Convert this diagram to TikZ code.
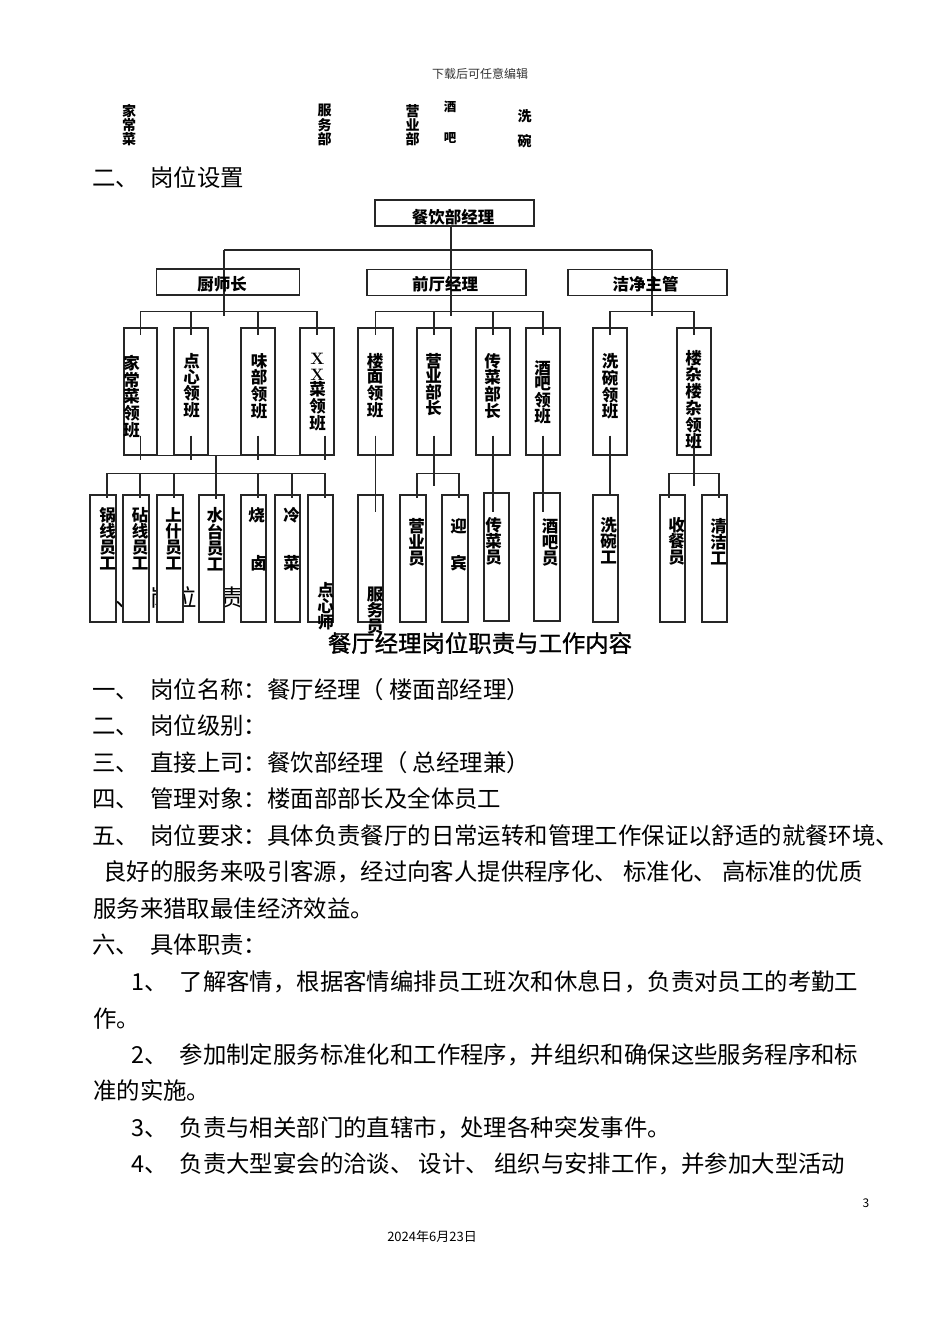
\documentclass[tikz,border=0pt]{standalone}
\usepackage{fontspec}
\newfontfamily\cjk{Noto Sans CJK SC}
\newfontfamily\cjkfb[FakeBold=1.2]{Noto Sans CJK SC}
\begin{document}
\begin{tikzpicture}[x=1pt,y=-1pt,
  box/.style={draw=black!85, fill=white, line width=1.1pt, inner sep=0pt},
  conn/.style={draw=black!85, line width=1.1pt},
  vl/.style={font=\cjk\bfseries\fontsize{16.5}{15.5}\selectfont, align=center, inner sep=0pt, anchor=north},
  vm/.style={font=\cjk\bfseries\fontsize{16.5}{16}\selectfont, align=center, inner sep=0pt, anchor=north},
  hl/.style={font=\cjk\bfseries\fontsize{16.5}{18}\selectfont, inner sep=0pt},
  tops/.style={font=\cjk\bfseries\fontsize{14}{12.4}\selectfont, align=center, inner sep=0pt, anchor=north},
  body/.style={font=\cjk\fontsize{23.4}{28}\selectfont, inner sep=0pt, anchor=west, execute at begin node=\vphantom{国}},
]
\fill[white] (0,0) rectangle (950,1344);
\useasboundingbox (0,0) rectangle (950,1344);

% header
\node[font=\cjk\fontsize{12}{14}\selectfont, text=black!80, inner sep=0pt] (hdr) at (480,74) {下载后可任意编辑};

% top stray characters
\node[tops] (t1) at (129,104) {家\\常\\菜};
\node[tops] (t2) at (324.5,104) {服\\务\\部};
\node[tops] (t3) at (412.5,104) {营\\业\\部};
\node[tops, font=\cjk\bfseries\fontsize{12.5}{12}\selectfont] (t4a) at (450,101) {酒};
\node[tops, font=\cjk\bfseries\fontsize{12.5}{12}\selectfont] (t4b) at (450,132) {吧};
\node[tops] (t5a) at (524.5,109) {洗};
\node[tops] (t5b) at (524.5,134) {碗};

\node[body] (s2a) at (92,178) {二、};
\node[body] (s2b) at (150,178) {岗位设置};

% hidden heading behind the chart
\node[body] (s3a) at (92,598) {三、};
\node[body] (s3b) at (150,598) {岗位职责};

% level 1-2 boxes
\node[box, minimum width=159, minimum height=26] (top) at (454.5,213) {};
\node[box, minimum width=143, minimum height=26] (k) at (228,282) {};
\node[box, minimum width=159, minimum height=26] (f) at (446.5,282.5) {};
\node[box, minimum width=159, minimum height=26] (c) at (647.5,282.5) {};

% level 3 boxes
\node[box, minimum width=33, minimum height=127] (c1) at (140.5,391.5) {};
\node[box, minimum width=34, minimum height=127] (c2) at (191,391.5) {};
\node[box, minimum width=34, minimum height=127] (c3) at (258,391.5) {};
\node[box, minimum width=34, minimum height=127] (c4) at (317,391.5) {};
\node[box, minimum width=35, minimum height=127] (f1) at (375.5,391.5) {};
\node[box, minimum width=34, minimum height=127] (f2) at (434,391.5) {};
\node[box, minimum width=34, minimum height=127] (f3) at (493,391.5) {};
\node[box, minimum width=34, minimum height=127] (f4) at (543,391.5) {};
\node[box, minimum width=34, minimum height=127] (w1) at (610,391.5) {};
\node[box, minimum width=34, minimum height=127] (w2) at (694,391.5) {};

% level 4 boxes
\node[box, minimum width=26, minimum height=127] (d1) at (103,558.5) {};
\node[box, minimum width=26, minimum height=127] (d2) at (136,558.5) {};
\node[box, minimum width=26, minimum height=127] (d3) at (170,558.5) {};
\node[box, minimum width=25, minimum height=127] (d4) at (211.5,558.5) {};
\node[box, minimum width=25, minimum height=127] (d5) at (253.5,558.5) {};
\node[box, minimum width=25, minimum height=127] (d6) at (287.5,558.5) {};
\node[box, minimum width=25, minimum height=127] (d7) at (320.5,558.5) {};
\node[box, minimum width=25, minimum height=127] (e1) at (370.5,558.5) {};
\node[box, minimum width=26, minimum height=127] (e2) at (413,558.5) {};
\node[box, minimum width=26, minimum height=127] (e3) at (455,558.5) {};
\node[box, minimum width=25, minimum height=128] (e4) at (496.5,557) {};
\node[box, minimum width=26, minimum height=128] (e5) at (547,557) {};
\node[box, minimum width=25, minimum height=127] (e6) at (605.5,558.5) {};
\node[box, minimum width=25, minimum height=127] (e7) at (672.5,558.5) {};
\node[box, minimum width=25, minimum height=127] (e8) at (714.5,558.5) {};

% connectors level 1-2
\coordinate (a1) at (451,250);
\coordinate (aL) at (224,250);
\coordinate (aR) at (652,250);
\coordinate (a2) at (451,316);
\coordinate (aL2) at (224,316);
\coordinate (aR2) at (652,316);
\draw[conn] (top.south -| a1) -- (a2);
\draw[conn] (aL) -- (aR);
\draw[conn] (aL) -- (aL2);
\draw[conn] (aR) -- (aR2);

% level 3 buses and top stubs
\draw[conn] ([yshift=16pt]c1.north) -- ([yshift=16pt]c4.north);
\draw[conn] ([yshift=16pt]f1.north) -- ([yshift=16pt]f4.north);
\draw[conn] ([yshift=16pt]w1.north) -- ([yshift=16pt]w2.north);
\foreach \n in {c1,c2,c3,c4,f1,f2,f3,f4,w1,w2}
  \draw[conn] (\n.north) ++(0,-16) -- ++(0,24);

% kitchen bottom
\draw[conn] (c1.south) -- ([xshift=8pt]c4.south);
\foreach \n in {c1,c2,c3}
  \draw[conn] (\n.south) ++(0,-20) -- ++(0,24);
\draw[conn] ([xshift=8pt]c4.south) ++(0,-20) -- ++(0,24);
\coordinate (kj) at (216,455);
\coordinate (kj2) at (216,499);
\draw[conn] (kj) -- (kj2);
\draw[conn] ([xshift=4pt,yshift=21pt]d1.north) -- ([xshift=4.5pt,yshift=21pt]d7.north);
\foreach \n in {d1,d2,d3}
  \draw[conn] ([xshift=4pt]\n.north) ++(0,-21) -- ++(0,25);
\foreach \n in {d5,d6,d7}
  \draw[conn] ([xshift=4.5pt]\n.north) ++(0,-21) -- ++(0,25);

% front of house bottom
\draw[conn] (f1.south) ++(0,-20) -- ++(0,76);
\draw[conn] (f2.south) ++(0,-20) -- ++(0,50);
\draw[conn] ([xshift=4pt,yshift=21pt]e2.north) -- ([xshift=4pt,yshift=21pt]e3.north);
\draw[conn] ([xshift=4pt]e2.north) ++(0,-21) -- ++(0,25);
\draw[conn] ([xshift=4pt]e3.north) ++(0,-21) -- ++(0,25);
\draw[conn] (f3.south) ++(0,-20) -- ++(0,76);
\draw[conn] (f4.south) ++(0,-20) -- ++(0,76);

% cleaning bottom
\draw[conn] (w1.south) ++(0,-20) -- ++(0,60);
\draw[conn] (w2.south) ++(0,-20) -- ++(0,50);
\draw[conn] ([xshift=-3.5pt,yshift=21pt]e7.north) -- ([xshift=4.5pt,yshift=21pt]e8.north);
\draw[conn] ([xshift=-3.5pt]e7.north) ++(0,-21) -- ++(0,25);
\draw[conn] ([xshift=4.5pt]e8.north) ++(0,-21) -- ++(0,25);

% level 1-2 labels
\node[hl] (ltop) at (453,217) {餐饮部经理};
\node[hl] (lk) at (222,284) {厨师长};
\node[hl] (lf) at (445,284) {前厅经理};
\node[hl] (lc) at (645.5,284) {洁净主管};

% level 3 labels
\node[vl] (lc1) at (131.5,355) {家\\常\\菜\\领\\班};
\node[vl] (lc2) at (191.5,353) {点\\心\\领\\班};
\node[vl] (lc3) at (259,353) {味\\部\\领\\班};
\node[vl] (lc4) at (317.5,353) {{\normalfont\bfseries X}\\{\normalfont\bfseries X}\\菜\\领\\班};
\node[vl] (lf1) at (375,353) {楼\\面\\领\\班};
\node[vl] (lf2) at (433.5,353) {营\\业\\部\\长};
\node[vl] (lf3) at (492.5,353) {传\\菜\\部\\长};
\node[vl] (lf4) at (542.5,360) {酒\\吧\\领\\班};
\node[vl] (lw1) at (610,353) {洗\\碗\\领\\班};
\node[vl] (lw2) at (693.5,350) {楼\\杂\\楼\\杂\\领\\班};

% level 4 labels
\node[vm] (ld1) at (107.5,507) {锅\\线\\员\\工};
\node[vm] (ld2) at (140,507) {砧\\线\\员\\工};
\node[vm] (ld3) at (173.5,507) {上\\什\\员\\工};
\node[vm] (ld4) at (215,507) {水\\台\\员\\工};
\node[vm] (ld5a) at (256.5,507) {烧};
\node[vm] (ld5b) at (258.5,555) {卤};
\node[vm] (ld6a) at (291.5,507) {冷};
\node[vm] (ld6b) at (291.5,555) {菜};
\node[vm] (ld7) at (325.5,582) {点\\心\\师};
\node[vm] (le1) at (375,587) {服\\务\\员};
\node[vm] (le2) at (416.5,518) {营\\业\\员};
\node[vm] (le3a) at (458.5,518) {迎};
\node[vm] (le3b) at (458.5,555) {宾};
\node[vm] (le4) at (493.5,517) {传\\菜\\员};
\node[vm] (le5) at (550,518) {酒\\吧\\员};
\node[vm] (le6) at (608.5,517) {洗\\碗\\工};
\node[vm] (le7) at (676.5,517) {收\\餐\\员};
\node[vm] (le8) at (718.5,518) {清\\洁\\工};

% body text
\node[body, anchor=center, font=\cjkfb\fontsize{23.4}{28}\selectfont] (title) at (480,643) {餐厅经理岗位职责与工作内容};
\node[body] (p1a) at (92,690) {一、};
\node[body] (p1b) at (150,690) {岗位名称：餐厅经理（ 楼面部经理）};
\node[body] (p2a) at (92,726) {二、};
\node[body] (p2b) at (150,726) {岗位级别：};
\node[body] (p3a) at (92,763) {三、};
\node[body] (p3b) at (150,763) {直接上司：餐饮部经理（ 总经理兼）};
\node[body] (p4a) at (92,799) {四、};
\node[body] (p4b) at (150,799) {管理对象：楼面部部长及全体员工};
\node[body] (p5a) at (92,836) {五、};
\node[body] (p5b) at (150,836) {岗位要求：具体负责餐厅的日常运转和管理工作保证以舒适的就餐环境、};
\node[body] (p5c) at (103,872) {良好的服务来吸引客源，经过向客人提供程序化、 标准化、 高标准的优质};
\node[body] (p5d) at (93,909) {服务来猎取最佳经济效益。};
\node[body] (p6a) at (92,945) {六、};
\node[body] (p6b) at (150,945) {具体职责：};
\node[body] (q1a) at (131,982) {1、};
\node[body] (q1b) at (179.5,982) {了解客情，根据客情编排员工班次和休息日，负责对员工的考勤工};
\node[body] (q1c) at (93,1019) {作。};
\node[body] (q2a) at (131,1055) {2、};
\node[body] (q2b) at (179.5,1055) {参加制定服务标准化和工作程序，并组织和确保这些服务程序和标};
\node[body] (q2c) at (93,1091) {准的实施。};
\node[body] (q3a) at (131,1128) {3、};
\node[body] (q3b) at (179.5,1128) {负责与相关部门的直辖市，处理各种突发事件。};
\node[body] (q4a) at (131,1164) {4、};
\node[body] (q4b) at (179.5,1164) {负责大型宴会的洽谈、 设计、 组织与安排工作，并参加大型活动};

% footer
\node[font=\cjk\fontsize{12}{14}\selectfont, inner sep=0pt] (pg) at (866,1203) {3};
\node[font=\cjk\fontsize{13}{15}\selectfont, inner sep=0pt] (date) at (432,1237) {2024年6月23日};
\end{tikzpicture}
\end{document}
